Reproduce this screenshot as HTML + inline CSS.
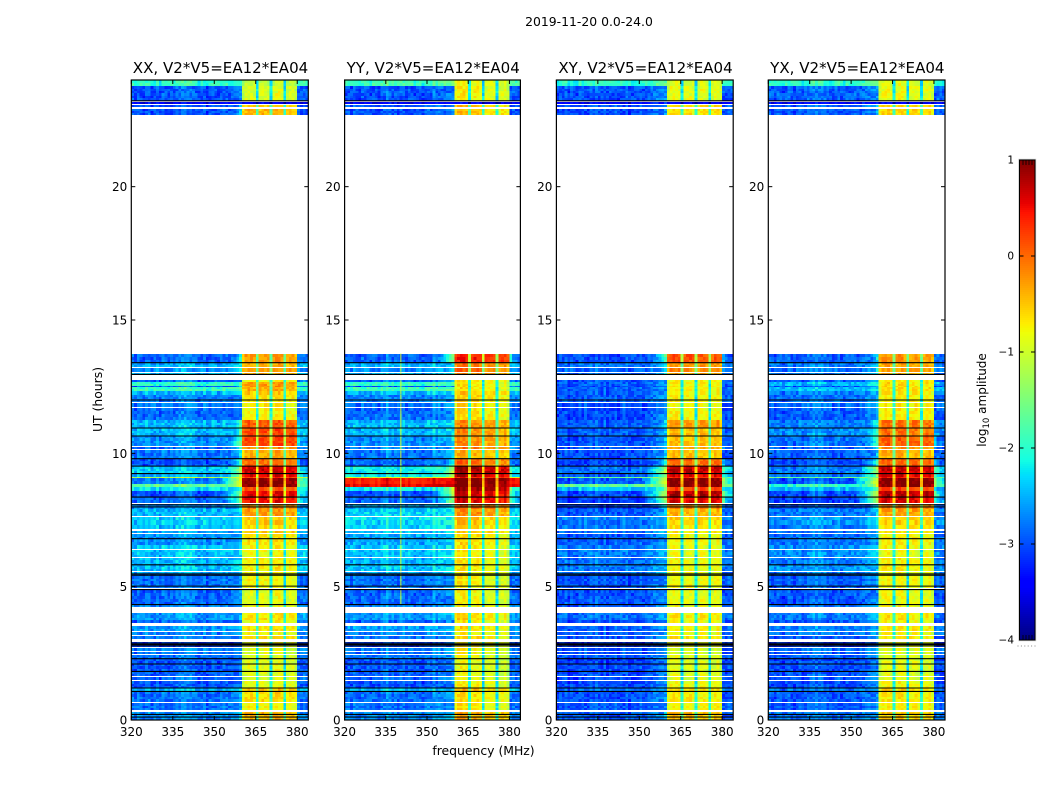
<!DOCTYPE html>
<html>
<head>
<meta charset="utf-8">
<title>2019-11-20 amplitude waterfall</title>
<style>
html,body{margin:0;padding:0;background:#fff;}
svg{display:block;font-family:"DejaVu Sans","Liberation Sans",sans-serif;}
</style>
</head>
<body>
<svg id="chart" xmlns="http://www.w3.org/2000/svg" width="1050" height="800" viewBox="0 0 1050 800">
<text x="589" y="26" font-size="12.4" text-anchor="middle" fill="#000">2019-11-20 0.0-24.0</text>
<text x="483.5" y="755" font-size="12.4" text-anchor="middle" fill="#000">frequency (MHz)</text>
<text x="0" y="0" transform="translate(102,399.5) rotate(-90)" font-size="12.4" text-anchor="middle" fill="#000">UT (hours)</text>
<text x="0" y="0" transform="translate(986,400) rotate(-90)" font-size="12" text-anchor="middle" fill="#000">log<tspan font-size="8.5" dy="3">10</tspan><tspan dy="-3"> amplitude</tspan></text>
</svg>
<script>
/* ---------- data ---------- */
const panelTitles = ["XX, V2*V5=EA12*EA04","YY, V2*V5=EA12*EA04","XY, V2*V5=EA12*EA04","YX, V2*V5=EA12*EA04"];
const xTickValues = [320,335,350,365,380];
const yTickValues = [0,5,10,15,20];
const colorTickValues = [1,0,-1,-2,-3,-4];

const rowStart = [
0.00,0.37,0.67,1.07,1.20,1.49,1.64,1.82,2.10,2.30,
2.48,2.60,2.73,3.03,3.20,3.33,3.64,3.75,4.23,4.33,
4.95,5.02,5.48,5.57,5.82,6.10,6.41,6.58,7.01,7.15,
7.30,7.64,7.90,8.12,8.36,8.60,8.72,8.85,9.07,9.13,
9.24,9.52,9.80,10.15,10.28,10.65,10.95,11.25,11.74,11.94,
12.20,12.32,12.47,12.52,12.67,12.93,13.06,13.23,13.33,13.40,
22.67,23.00,23.10,23.22,23.77];
const rowEnd = [
0.31,0.63,1.07,1.20,1.45,1.60,1.82,2.10,2.30,2.45,
2.55,2.70,2.92,3.15,3.29,3.52,3.75,4.03,4.33,4.87,
5.02,5.48,5.54,5.82,6.07,6.38,6.55,6.97,7.09,7.30,
7.60,7.90,8.09,8.36,8.60,8.72,8.85,9.07,9.13,9.24,
9.52,9.80,10.11,10.25,10.65,10.95,11.25,11.70,11.88,12.20,
12.32,12.47,12.52,12.67,12.74,13.03,13.20,13.30,13.40,13.74,
22.93,23.05,23.17,23.77,24.00];

const offXX = [
-2.7,-2.85,-2.85,-2.5,-3.0,-2.9,-2.95,-3.0,-3.0,-2.85,
-2.85,-2.75,-3.1,-2.85,-2.75,-2.65,-2.95,-2.65,-2.75,-2.9,
-2.85,-2.85,-2.6,-2.45,-2.5,-2.45,-2.45,-2.7,-2.6,-2.45,
-2.4,-2.5,-2.7,-2.9,-3.0,-2.3,-1.7,-2.8,-1.2,-2.5,
-2.4,-3.0,-2.8,-2.9,-2.7,-2.5,-2.5,-2.9,-2.8,-2.8,
-2.5,-1.95,-3.0,-2.0,-2.9,-2.5,-2.7,-2.5,-2.6,-2.9,
-3.0,-3.0,-3.5,-3.0,-2.0];
const onXX = [
-0.45,-0.8,-0.65,-0.5,-0.9,-0.95,-0.95,-0.9,-0.95,-0.95,
-0.95,-0.95,-0.85,-0.65,-0.85,-0.7,-0.85,-0.7,-0.85,-0.9,
-0.85,-0.8,-0.8,-0.75,-0.75,-0.85,-0.8,-0.7,-0.55,-0.65,
-0.55,-0.3,-0.2,0.45,0.55,0.1,0.95,0.95,0.2,0.6,
0.65,-0.05,-0.4,-0.2,0.2,0.15,0.05,-0.8,-0.75,-0.7,
-0.55,-0.4,-0.3,-0.3,-0.8,-0.4,-0.3,-0.4,-0.4,-0.3,
-0.45,-0.55,-3.5,-0.95,-1.1];
const offYY = [
-2.7,-2.85,-2.85,-2.5,-3.0,-2.9,-2.95,-3.0,-3.0,-2.85,
-2.85,-2.75,-3.1,-2.85,-2.75,-2.65,-2.95,-2.65,-2.75,-2.9,
-2.85,-2.85,-2.6,-2.45,-2.5,-2.45,-2.45,-2.6,-2.5,-2.4,
-2.3,-2.4,-2.6,-2.9,-3.0,-2.2,0.5,0.35,-1.0,-2.2,
-2.2,-2.9,-2.8,-2.8,-2.7,-2.5,-2.5,-2.9,-2.8,-2.8,
-2.5,-1.95,-3.0,-2.0,-2.9,-2.5,-2.7,-2.5,-2.6,-2.9,
-3.0,-3.0,-3.5,-3.0,-1.9];
const onYY = [
-0.45,-0.8,-0.75,-0.55,-0.85,-0.95,-0.95,-0.95,-0.95,-0.95,
-0.85,-0.85,-0.85,-0.7,-0.85,-0.75,-0.85,-0.7,-0.85,-0.9,
-0.85,-0.85,-0.8,-0.8,-0.8,-0.85,-0.8,-0.75,-0.65,-0.7,
-0.55,-0.3,-0.1,0.5,0.6,0.8,1.0,1.0,0.3,0.65,
0.75,-0.1,-0.5,-0.2,-0.3,-0.3,-0.3,-0.75,-0.7,-0.7,
-0.6,-0.8,-0.8,-0.8,-0.75,-0.3,-0.1,-0.2,-0.2,0.3,
-0.6,-0.6,-3.5,-0.85,-0.9];
const offXY = [
-2.95,-3.0,-3.0,-2.85,-3.05,-3.05,-3.05,-3.05,-3.1,-3.0,
-3.0,-2.95,-3.15,-2.95,-2.95,-2.95,-3.05,-2.85,-2.95,-3.0,
-3.0,-3.0,-2.85,-2.8,-2.85,-2.8,-2.8,-2.95,-2.85,-2.85,
-2.8,-2.95,-3.1,-3.1,-3.05,-2.4,-1.7,-3.0,-1.6,-2.95,
-2.85,-3.1,-3.0,-3.0,-3.0,-2.95,-2.95,-3.05,-3.0,-2.95,
-2.95,-2.95,-3.05,-2.95,-3.0,-2.85,-2.95,-2.85,-2.85,-3.0,
-3.05,-3.0,-3.5,-3.0,-2.0];
const onXY = [
-0.5,-0.8,-0.75,-0.65,-0.85,-0.95,-0.95,-0.95,-0.95,-0.95,
-0.95,-0.95,-0.85,-0.7,-0.85,-0.8,-0.85,-0.75,-0.85,-0.9,
-0.85,-0.85,-0.85,-0.85,-0.85,-0.9,-0.9,-0.85,-0.75,-0.75,
-0.6,-0.45,-0.2,0.55,0.75,0.2,0.95,0.95,0.3,0.55,
0.7,-0.05,-0.5,-0.4,-0.5,-0.5,-0.3,-0.8,-0.8,-0.8,
-0.8,-0.8,-0.8,-0.8,-0.8,-0.4,-0.2,-0.3,-0.3,0.1,
-0.7,-0.65,-3.5,-0.9,-0.95];
const offYX = [
-2.85,-3.0,-3.0,-2.8,-3.05,-3.0,-3.0,-3.05,-3.05,-2.95,
-2.95,-2.85,-3.15,-2.95,-2.85,-2.8,-3.0,-2.8,-2.85,-3.0,
-2.95,-2.95,-2.8,-2.7,-2.8,-2.7,-2.7,-2.85,-2.85,-2.8,
-2.65,-2.8,-3.0,-3.1,-3.05,-2.5,-2.0,-3.0,-1.7,-2.85,
-2.8,-3.05,-2.95,-2.95,-2.85,-2.7,-2.8,-2.95,-2.85,-2.85,
-2.8,-2.5,-3.0,-2.5,-2.95,-2.8,-2.85,-2.8,-2.8,-2.95,
-3.0,-2.95,-3.5,-2.95,-2.0];
const onYX = [
-0.6,-0.8,-0.75,-0.65,-0.85,-0.95,-0.95,-0.95,-0.95,-0.95,
-0.95,-0.95,-0.9,-0.7,-0.85,-0.75,-0.85,-0.75,-0.85,-0.9,
-0.85,-0.85,-0.85,-0.8,-0.8,-0.9,-0.85,-0.8,-0.7,-0.7,
-0.6,-0.35,-0.2,0.55,0.7,0.15,0.95,0.95,0.3,0.55,
0.65,-0.05,-0.45,-0.3,0.0,-0.1,-0.1,-0.75,-0.75,-0.75,
-0.75,-0.7,-0.7,-0.7,-0.75,-0.45,-0.35,-0.4,-0.4,-0.3,
-0.65,-0.65,-3.5,-0.9,-0.95];

const channelXX = [.05,-.05,.1,0,-.1,.05,.1,-.05,0,.05,-.1,.1,0,-.05,.05,0,.1,.15,.2,.25,.2,.15,.1,.05,-.05,0,.05,-.1,0,.05,0,-.05,.05,.1,.05,0,.05,.1,.15,.2,0,0,0,0,0,0,0,0,0,0,0,0,0,0,0,0,0,0,0,0,.1,.05,.1,0];
const channelYY = [0,.05,-.05,.1,0,-.1,.05,0,.1,-.05,0,.05,-.1,.05,.1,.3,.1,0,.05,0,.1,.05,-.05,.1,0,-.05,.05,0,-.1,.05,.1,0,.25,.1,.15,.1,.15,.2,.2,.25,0,0,0,0,0,0,0,0,0,0,0,0,0,0,0,0,0,0,0,0,.05,.1,0,.05];
const channelXY = [-.05,.05,0,.1,-.1,.05,0,-.05,.1,0,.05,-.05,.1,0,.2,.05,0,.1,-.05,.05,0,.1,-.05,0,.05,.1,-.05,0,.05,0,.1,-.05,.05,.1,.15,.2,.25,.25,.3,.3,0,0,0,0,0,0,0,0,0,0,0,0,0,0,0,0,0,0,0,0,.05,0,.1,.05];
const channelYX = [.05,0,-.05,.1,.05,-.1,0,.1,.05,-.05,0,.1,-.05,.05,.1,.15,.2,.2,.15,.2,.1,.05,0,-.05,.05,.1,0,-.05,.05,0,.05,.1,0,.05,.1,.15,.2,.2,.25,.3,0,0,0,0,0,0,0,0,0,0,0,0,0,0,0,0,0,0,0,0,0,.1,.05,0];

const passbandShape = [0,0,0,0,0,0,0,0,0,0,0,0,0,0,0,0,0,0,0,0,0,0,0,0,0,0,0,0,0,0,0,0,0,0,0,0,0,0,0,0,
-.2,0,.05,.05,-.03,-1.3,-.03,.05,.05,-.03,-1.35,-.03,.05,.05,-.03,-1.3,-.05,.03,.05,-.15,0,0,0,0];
const spillTaper = [9,9,9,9,9,9,9,9,9,9,9,9,9,9,9,9,9,9,9,9,9,9,9,9,9,9,9,9,9,4.2,3.9,3.7,3.5,3.3,3.1,2.9,2.7,2.5,2.2,1.9,
0,0,0,0,0,0,0,0,0,0,0,0,0,0,0,0,0,0,0,0,2.4,2.8,3,3.1];
const windowTiltXX = [0,0,.05,-.05];
const windowTiltYY = [.15,.05,-.05,-.1];
const windowTiltXY = [.05,0,0,0];
const windowTiltYX = [.05,.05,0,0];

/* cell-to-cell grain, estimated from the spread seen in the quiet off-band area */
const grain = [.3,-.45,.1,-.2,.55,-.6,.05,.35,-.3,.2,-.5,.4,-.1,.25,-.35,.6,-.15,-.55,.15,.45,-.25,.05,-.4,.5,-.05,.3,-.65,.2,-.2,.4,-.5,.1,.35,-.3,.6,-.45,.0,.25,-.15,-.35,.45];

const blackLineHours = [0.11,0.21,1.07,1.20,1.82,2.10,2.30,2.78,2.83,2.88,4.33,4.89,5.02,5.43,5.48,5.82,6.80,7.99,8.07,8.36,9.24,9.52,9.80,10.65,10.95,12.0,12.96,13.40,23.22];

const interferenceFreq = 340.3;
const interferenceFrom = 4.3;
const interferenceTo = 13.75;
const interferenceLevel = -1.0;

/* ---------- layout and scales ---------- */
const panelLeft = [131.3,344.6,556.4,768.3];
const panelWidth = [177,175.8,176.8,176.7];
const plotTop = 80, plotBottom = 720;
const subRowHours = 0.1;
const offByPanel = [offXX,offYY,offXY,offYX];
const onByPanel = [onXX,onYY,onXY,onYX];
const channelByPanel = [channelXX,channelYY,channelXY,channelYX];
const tiltByPanel = [windowTiltXX,windowTiltYY,windowTiltXY,windowTiltYX];
const panelNames = ['xx','yy','xy','yx'];

const NS = 'http://www.w3.org/2000/svg';
const root = document.getElementById('chart');
function mk(tag, attrs, parent){
  const n = document.createElementNS(NS, tag);
  for (const k in attrs) n.setAttribute(k, attrs[k]);
  (parent || root).appendChild(n);
  return n;
}
function yScale(h){ return plotBottom - (h/24)*(plotBottom-plotTop); }
function xScale(f,p){ return panelLeft[p] + ((f-320)/64)*panelWidth[p]; }
function colorScaleY(v){ return 160 + (1-v)*96; }

function ramp(t, pts){
  for (let i=1;i<pts.length;i++){
    if (t<=pts[i][0]){
      const a=pts[i-1], b=pts[i];
      return a[1]+(b[1]-a[1])*(t-a[0])/(b[0]-a[0]);
    }
  }
  return pts[pts.length-1][1];
}
const jetR=[[0,0],[.35,0],[.66,1],[.89,1],[1,.5]];
const jetG=[[0,0],[.125,0],[.375,1],[.64,1],[.91,0],[1,0]];
const jetB=[[0,.5],[.11,1],[.34,1],[.65,0],[1,0]];
function jet(v){
  const t=Math.max(0,Math.min(1,(v+4)/5));
  const c=p=>Math.round(255*ramp(t,p));
  return 'rgb('+c(jetR)+','+c(jetG)+','+c(jetB)+')';
}
function cellValue(p,r,ch,rowCounter){
  const g=grain[(ch*7+ch*ch+rowCounter*rowCounter*3+rowCounter*11+p*5)%grain.length];
  const off=offByPanel[p][r]+channelByPanel[p][ch], on=onByPanel[p][r];
  if (ch>=40 && ch<60){
    const w=Math.min(3,Math.floor((ch-40)/5));
    return on+passbandShape[ch]+tiltByPanel[p][w]+g*0.3;
  }
  const quiet=Math.max(off,on-spillTaper[ch]);
  return quiet+g*(off>-1?0.15:0.4);
}

/* ---------- panels ---------- */
panelTitles.forEach(function(title,p){
  const g = mk('g',{});
  
  

  let rowCounter=0;
  rowStart.forEach(function(h0,r){
    const h1=rowEnd[r];
    const nSub=Math.max(1,Math.round((h1-h0)/subRowHours));
    for (let s=0;s<nSub;s++){
      rowCounter++;
      const ha=h0+(h1-h0)*s/nSub, hb=h0+(h1-h0)*(s+1)/nSub;
      const y1=Math.round(yScale(hb)), y0=Math.round(yScale(ha));
      for (let ch=0;ch<64;ch++){
        const xa=xScale(320+ch,p), xb=xScale(321+ch,p);
        const c=mk('rect',{x:xa.toFixed(2),y:y1,width:(xb-xa+0.3).toFixed(2),height:Math.max(1,y0-y1),fill:jet(cellValue(p,r,ch,rowCounter)),'shape-rendering':'crispEdges'},g);
        
        
      }
    }
    if (p===1 && h0>=interferenceFrom && h1<=interferenceTo){
      const x=xScale(interferenceFreq,p);
      const line=mk('rect',{x:x,y:yScale(h1),width:1,height:yScale(h0)-yScale(h1),fill:jet(interferenceLevel)},g);
      
      
    }
  });

  blackLineHours.forEach(function(h){
    const l=mk('line',{x1:panelLeft[p],x2:panelLeft[p]+panelWidth[p],y1:yScale(h),y2:yScale(h),stroke:'#000','stroke-width':1.1},g);
    
    
  });

  const frame=mk('rect',{x:panelLeft[p],y:plotTop,width:panelWidth[p],height:plotBottom-plotTop,fill:'none',stroke:'#000','stroke-width':1.2},g);
  
  

  const t=mk('text',{x:panelLeft[p]+panelWidth[p]/2+0.7,y:73,'font-size':15.05,'text-anchor':'middle',fill:'#000'},g);
  t.textContent=title;
  
  

  xTickValues.forEach(function(f){
    const x=xScale(f,p);
    const a=mk('line',{x1:x,x2:x,y1:plotBottom,y2:plotBottom-4,stroke:'#000','stroke-width':1},g);
    
    
    const b=mk('line',{x1:x,x2:x,y1:plotTop,y2:plotTop+4,stroke:'#000','stroke-width':1},g);
    
    
    const l=mk('text',{x:x,y:736,'font-size':12,'text-anchor':'middle',fill:'#000'},g);
    l.textContent=f;
    
    
  });
  yTickValues.forEach(function(h){
    const y=yScale(h), L=panelLeft[p], R=L+panelWidth[p];
    const a=mk('line',{x1:L,x2:L+4,y1:y,y2:y,stroke:'#000','stroke-width':1},g);
    
    
    const b=mk('line',{x1:R,x2:R-4,y1:y,y2:y,stroke:'#000','stroke-width':1},g);
    
    
    const l=mk('text',{x:L-4,y:y+4.5,'font-size':12,'text-anchor':'end',fill:'#000'},g);
    l.textContent=h;
    
    
  });
});

/* ---------- colorbar ---------- */
const cb = mk('g',{});


for (let i=0;i<240;i++){
  const v=1-(i+0.5)/48;
  const s=mk('rect',{x:1019.5,y:160+i*2,width:15.5,height:2.2,fill:jet(v),'shape-rendering':'crispEdges'},cb);
  
  
}
const halo=mk('rect',{x:1018.8,y:159.3,width:16.9,height:481.4,fill:'none',stroke:'#ccc','stroke-width':1},cb);


const cbFrame=mk('rect',{x:1019.5,y:160,width:15.5,height:480,fill:'none',stroke:'#000','stroke-width':1},cb);


colorTickValues.forEach(function(v){
  const y=colorScaleY(v);
  if (v<1 && v>-4){
    const a=mk('line',{x1:1019.5,x2:1023.5,y1:y,y2:y,stroke:'#000','stroke-width':1},cb);
    
    
    const b=mk('line',{x1:1035,x2:1031,y1:y,y2:y,stroke:'#000','stroke-width':1},cb);
    
    
  }
  const l=mk('text',{x:1014,y:y+3.5,'font-size':10.5,'text-anchor':'end',fill:'#000'},cb);
  l.textContent=(v<0?'\u2212':'')+Math.abs(v);
  
  
});
[1023,1026,1029,1032].forEach(function(x){
  const a=mk('line',{x1:x,x2:x,y1:160,y2:165,stroke:'#000','stroke-width':0.8},cb);
  
  
  const b=mk('line',{x1:x,x2:x,y1:640,y2:635,stroke:'#000','stroke-width':0.8},cb);
  
  
});
const dots=mk('line',{x1:1017.5,x2:1035.5,y1:646,y2:646,stroke:'#888','stroke-width':1,'stroke-dasharray':'1 2.4'},cb);


</script>
</body>
</html>
